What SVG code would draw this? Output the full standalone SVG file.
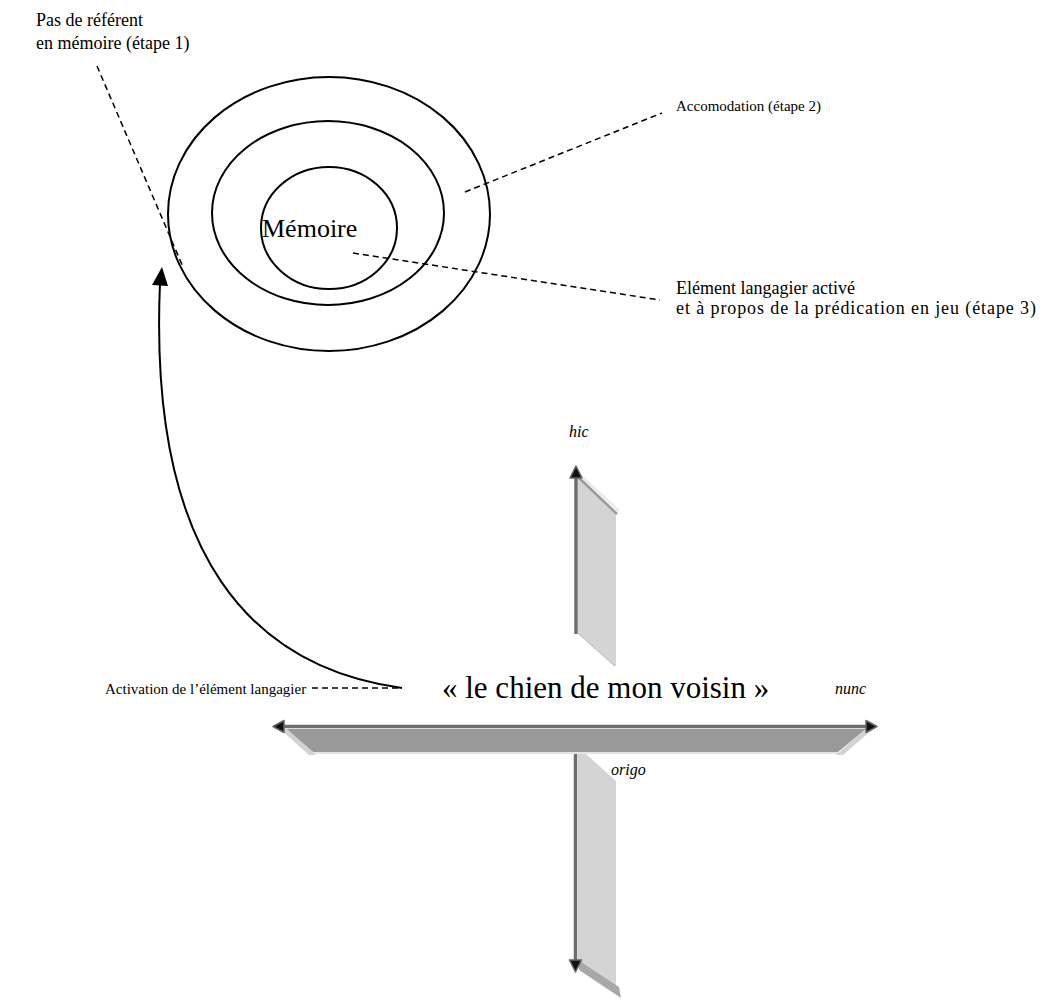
<svg xmlns="http://www.w3.org/2000/svg" width="1055" height="1000" viewBox="0 0 1055 1000">
<style>
.t{font-family:"Liberation Serif","Times New Roman",serif;fill:#000;font-size:16px}
.i{font-style:italic}
.dash{fill:none;stroke:#000;stroke-width:1.5;stroke-dasharray:6,4}
.ring{fill:none;stroke:#000;stroke-width:2}
.head{fill:#111;stroke:#666;stroke-width:1.5;stroke-linejoin:round}
.axis{stroke:#6e6e6e;stroke-width:3.5}
</style>
<rect width="1055" height="1000" fill="#fff"/>

<g id="memoire">
<ellipse class="ring" cx="329" cy="214" rx="161" ry="137"/>
<ellipse class="ring" cx="328" cy="213" rx="116" ry="92"/>
<ellipse class="ring" cx="329" cy="228" rx="68" ry="61"/>
<text class="t" x="262" y="237" style="font-size:26px">Mémoire</text>
</g>

<g id="label-etape1">
<text class="t" x="36" y="26" style="font-size:18px">Pas de référent</text>
<text class="t" x="36" y="49" style="font-size:18px">en mémoire (étape 1)</text>
</g>
<g id="label-etape2">
<text class="t" x="676" y="111" style="font-size:15px">Accomodation (étape 2)</text>
</g>
<g id="label-etape3">
<text class="t" x="676" y="294" style="font-size:18px">Elément langagier activé</text>
<text class="t" x="676" y="314" style="font-size:18px" textLength="360" lengthAdjust="spacing">et à propos de la prédication en jeu (étape 3)</text>
</g>
<g id="label-activation">
<text class="t" x="105" y="694" style="font-size:15px">Activation de l’élément langagier</text>
</g>
<g id="enonce">
<text class="t" x="442" y="698" style="font-size:31px">« le chien de mon voisin »</text>
</g>

<g id="axis-horizontal">
<polygon points="286,729 866,729 838,752 313,752" fill="#999"/>
<line x1="313" y1="753" x2="838" y2="753" stroke="#e4e4e4" stroke-width="2"/>
<polygon points="280,729 287,729 316,755 309,755" fill="#d2d2d2"/>
<polygon points="866,729 873,729 843,755 836,755" fill="#d2d2d2"/>
<line class="axis" x1="282" y1="726.5" x2="868" y2="726.5"/>
<polygon class="head" points="273,726.5 284,720.5 284,732.5"/>
<polygon class="head" points="877,726.5 866,720.5 866,732.5"/>
<text class="t i" x="835" y="694">nunc</text>
</g>

<g id="axis-hic">
<polygon points="578,478 616,514 616,666 578,632" fill="#d4d4d4"/>
<line x1="579" y1="474" x2="619" y2="511" stroke="#ececec" stroke-width="3"/>
<line x1="578" y1="477" x2="617" y2="514" stroke="#9a9a9a" stroke-width="2.5"/>
<line x1="578" y1="633" x2="615" y2="666" stroke="#c4c4c4" stroke-width="1.5"/>
<line class="axis" x1="576" y1="476" x2="576" y2="634"/>
<polygon class="head" points="576,466 570,478 582,478"/>
<text class="t i" x="569" y="437">hic</text>
</g>

<g id="axis-origo">
<polygon points="578,754 586,754 616,781 616,990 578,962" fill="#d4d4d4"/>
<polygon points="578,960 619,987 621,998 579,970" fill="#a8a8a8"/>
<line class="axis" x1="575.5" y1="754" x2="575.5" y2="962"/>
<polygon class="head" points="575.5,972 569.5,960 581.5,960"/>
<text class="t i" x="611" y="775">origo</text>
</g>

<g id="connectors">
<line class="dash" x1="97" y1="66" x2="183" y2="267"/>
<line class="dash" x1="465" y1="192" x2="662" y2="113"/>
<line class="dash" x1="353" y1="253" x2="660" y2="300"/>
<line class="dash" x1="312" y1="688" x2="402" y2="688"/>
<path d="M402,688 C255,668 148,560 160,283" fill="none" stroke="#000" stroke-width="2"/>
<polygon points="162,267 152,285 168,286" fill="#000"/>
</g>
</svg>
